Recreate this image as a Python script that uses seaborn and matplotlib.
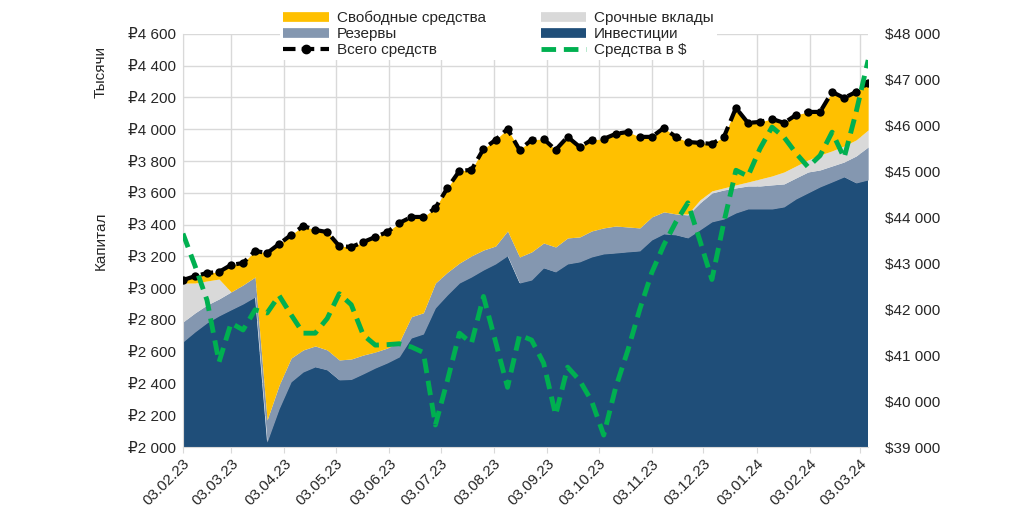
import pandas as pd
import numpy as np
import matplotlib
matplotlib.use("Agg")
import matplotlib.pyplot as plt
from matplotlib.lines import Line2D
from matplotlib.ticker import FuncFormatter
import seaborn as sns

# weekly data, 03.02.23 - 08.03.24
dates = pd.date_range("2023-02-03", periods=58, freq="7D")

invest = [2661, 2724, 2781, 2825, 2863, 2900, 2944, 2031, 2240, 2410,
          2472, 2504, 2485, 2422, 2425, 2460, 2497, 2529, 2567, 2686,
          2711, 2875, 2957, 3032, 3070, 3114, 3152, 3203, 3032, 3051,
          3127, 3102, 3152, 3165, 3196, 3215, 3221, 3228, 3234, 3303,
          3341, 3335, 3316, 3366, 3417, 3435, 3473, 3498, 3498, 3498,
          3511, 3561, 3599, 3637, 3668, 3700, 3662, 3681]
reserves = [126, 120, 113, 107, 113, 120, 126, 139, 150, 150,
            139, 132, 126, 126, 129, 119, 101, 94, 94, 134,
            134, 157, 143, 126, 133, 126, 113, 157, 164, 177,
            157, 157, 164, 157, 164, 164, 170, 157, 145, 145,
            139, 132, 145, 170, 182, 183, 158, 145, 145, 152,
            145, 133, 132, 107, 101, 94, 170, 208]
deposits = [245, 188, 151, 125, 0, 0, 0, 0, 0, 0,
            0, 0, 0, 0, 0, 0, 0, 0, 0, 0,
            0, 0, 0, 0, 0, 0, 0, 0, 0, 0,
            0, 0, 0, 0, 0, 0, 0, 0, 0, 0,
            0, 0, 5, 19, 13, 13, 19, 25, 44, 56,
            75, 75, 76, 94, 95, 101, 101, 107]
free = [19, 43, 50, 45, 170, 138, 164, 1051, 888, 775,
        780, 730, 742, 717, 705, 711, 724, 730, 749, 628,
        603, 473, 530, 580, 541, 636, 668, 642, 674, 705,
        655, 611, 636, 567, 573, 560, 580, 598, 573, 504,
        528, 485, 454, 359, 296, 321, 484, 372, 359, 359,
        309, 321, 302, 271, 371, 302, 302, 296]
total = [3051, 3075, 3095, 3102, 3146, 3158, 3234, 3221, 3278, 3335,
         3391, 3366, 3353, 3265, 3259, 3290, 3322, 3353, 3410, 3448,
         3448, 3505, 3630, 3738, 3744, 3876, 3933, 4002, 3870, 3933,
         3939, 3870, 3952, 3889, 3933, 3939, 3971, 3983, 3952, 3952,
         4008, 3952, 3920, 3914, 3908, 3952, 4134, 4040, 4046, 4065,
         4040, 4090, 4109, 4109, 4235, 4197, 4235, 4292]
usd = [43650, 42950, 42200, 40850, 41700, 41550, 41990, 41920, 42300, 41880,
       41480, 41480, 41800, 42340, 42100, 41440, 41220, 41230, 41250, 41180,
       41060, 39480, 40450, 41480, 41260, 42280, 41300, 40300, 41440, 41330,
       40830, 39700, 40740, 40450, 40000, 39260, 40300, 41100, 42000, 42800,
       43400, 43900, 44320, 43500, 42650, 43900, 45030, 44900, 45500, 45970,
       45750, 45400, 45100, 45350, 45860, 45300, 46300, 47430]

tick_dates = pd.to_datetime(["2023-02-03", "2023-03-03", "2023-04-03", "2023-05-03",
                             "2023-06-03", "2023-07-03", "2023-08-03", "2023-09-03",
                             "2023-10-03", "2023-11-03", "2023-12-03", "2024-01-03",
                             "2024-02-03", "2024-03-03"])
tick_labels = ["03.02.23", "03.03.23", "03.04.23", "03.05.23", "03.06.23", "03.07.23",
               "03.08.23", "03.09.23", "03.10.23", "03.11.23", "03.12.23", "03.01.24",
               "03.02.24", "03.03.24"]

c_free = "#FFC000"
c_dep = "#D9D9D9"
c_res = "#8497B0"
c_inv = "#1F4E79"
c_usd = "#00B050"

sns.set_style("white")
plt.rcParams["font.family"] = ["Liberation Sans", "DejaVu Sans"]
plt.rcParams["font.size"] = 11

fig = plt.figure(figsize=(10.36, 5.30), dpi=100)
ax = fig.add_axes([0.1766, 0.1566, 0.6614, 0.7794])

ax.stackplot(dates, invest, reserves, deposits, free,
             colors=[c_inv, c_res, c_dep, c_free], linewidth=0, zorder=2)
sns.lineplot(x=dates, y=total, ax=ax, color="black", linestyle="--", linewidth=3,
             marker="o", markersize=6, markeredgewidth=0, zorder=4)
ax.lines[-1].set_dashes([3, 1.5])

ax.set_xlim(dates[0], dates[-1])
ax.set_ylim(2000, 4600)
ax.set_yticks(np.arange(2000, 4601, 200))
ax.yaxis.set_major_formatter(FuncFormatter(lambda v, p: "₽" + f"{int(v):,}".replace(",", " ")))
ax.set_xticks(tick_dates)
ax.set_xticklabels(tick_labels, rotation=45, ha="right", rotation_mode="anchor")
ax.grid(True, color="#D9D9D9", linewidth=1)
ax.set_axisbelow(True)
ax.tick_params(axis="x", length=4, color="#D9D9D9", labelsize=11, pad=3, bottom=True)
ax.tick_params(axis="y", length=0, labelsize=11, pad=5)
for s in ["top", "right"]:
    ax.spines[s].set_visible(False)
for s in ["left", "bottom"]:
    ax.spines[s].set_color("#D9D9D9")
ax.set_xlabel("")
ax.set_ylabel("")

ax2 = ax.twinx()
sns.lineplot(x=dates, y=usd, ax=ax2, color=c_usd, linewidth=3.5, zorder=5)
ax2.lines[-1].set_dashes([3, 1.6])
ax2.set_ylim(39000, 48000)
ax2.set_yticks(np.arange(39000, 48001, 1000))
ax2.yaxis.set_major_formatter(FuncFormatter(lambda v, p: "$" + f"{int(v):,}".replace(",", " ")))
ax2.tick_params(axis="y", length=0, labelsize=11, pad=12)
for s in ax2.spines.values():
    s.set_visible(False)
ax2.set_ylabel("")

fig.text(0.097, 0.865, "Тысячи", rotation=90, ha="center", va="center", fontsize=11)
fig.text(0.097, 0.545, "Капитал", rotation=90, ha="center", va="center", fontsize=11)

handles = [
    Line2D([], [], color=c_free, linewidth=7, solid_capstyle="butt"),
    Line2D([], [], color=c_res, linewidth=7, solid_capstyle="butt"),
    Line2D([], [], color="black", linewidth=3, linestyle=(0, (3, 1.5)), marker="o", markersize=6),
    Line2D([], [], color=c_dep, linewidth=7, solid_capstyle="butt"),
    Line2D([], [], color=c_inv, linewidth=7, solid_capstyle="butt"),
    Line2D([], [], color=c_usd, linewidth=3.5, linestyle=(0, (3, 1.6))),
]
labels = ["Свободные средства", "Резервы", "Всего средств",
          "Срочные вклады", "Инвестиции", "Средства в $"]
leg = fig.legend(handles, labels, loc="center", bbox_to_anchor=(0.481, 0.936), ncol=2,
                 fontsize=11, handlelength=3.0, handletextpad=0.5, columnspacing=3.6,
                 labelspacing=0.12, frameon=True, facecolor="white", edgecolor="none",
                 framealpha=1, borderpad=0.2)
leg.set_zorder(10)

fig.savefig("out.png", dpi=100)
